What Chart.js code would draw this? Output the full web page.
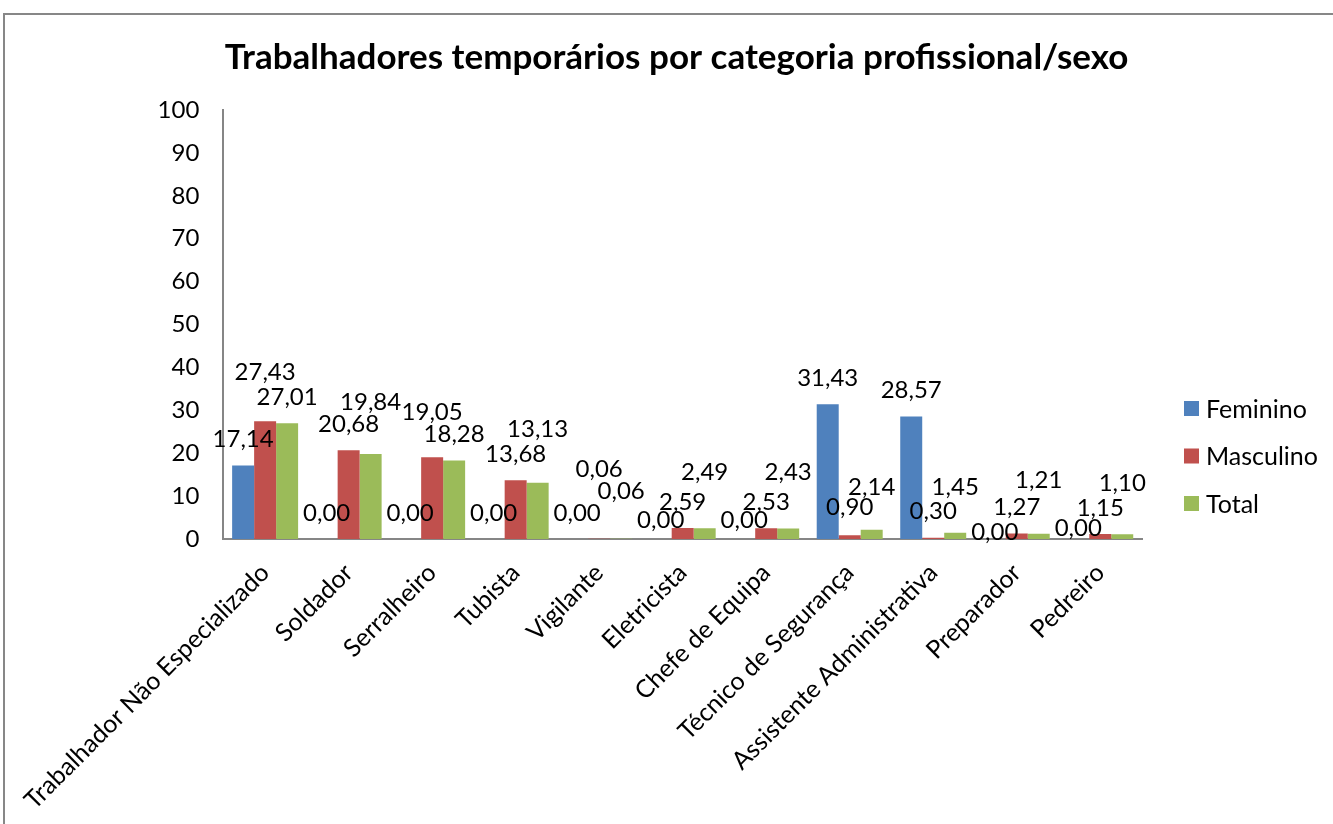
<!DOCTYPE html>
<html>
<head>
<meta charset="utf-8">
<script src="https://cdn.jsdelivr.net/npm/chart.js"></script>
<style>
    html, body { margin: 0; padding: 0; overflow: hidden; background: #fff; }
    #moldura { position: absolute; left: 3px; top: 13px; width: 1400px; height: 900px; border: 2px solid #878787; }
    #caixa { position: absolute; left: 0; top: 0; width: 1333px; height: 824px; }
</style>
</head>
<body>
<div id="moldura"></div>
<div id="caixa"><canvas id="grafico"></canvas></div>
<script>
const categorias = [
    "Trabalhador Não Especializado", "Soldador", "Serralheiro", "Tubista", "Vigilante",
    "Eletricista", "Chefe de Equipa", "Técnico de Segurança", "Assistente Administrativa",
    "Preparador", "Pedreiro"
];
const feminino = [17.14, 0.00, 0.00, 0.00, 0.00, 0.00, 0.00, 31.43, 28.57, 0.00, 0.00];
const masculino = [27.43, 20.68, 19.05, 13.68, 0.06, 2.59, 2.53, 0.90, 0.30, 1.27, 1.15];
const total = [27.01, 19.84, 18.28, 13.13, 0.06, 2.49, 2.43, 2.14, 1.45, 1.21, 1.10];
const escalaY = { min: 0, max: 100, passo: 10 };

// os rótulos no original foram afastados à mão; isto é o deslocamento extra (px)
const elevarFeminino = [0, 0, 0, 0, 0, -7, -7, 0, 0, -19, -15];
const elevarMasculino = [23, 0, 19, 0, 43, 0, 0, 2, 0, 0, 0];
const elevarTotal = [0, 26, 0, 27, 21, 30, 30, 17, 20, 28, 25];

const fonte = "Lato";
const tamanhoTexto = 24;

const rotulosValores = {
    id: "rotulosValores",
    afterDatasetsDraw(chart) {
        const ctx = chart.ctx;
        ctx.save();
        ctx.font = tamanhoTexto + "px " + fonte;
        ctx.fillStyle = "#000";
        ctx.textAlign = "center";
        ctx.textBaseline = "middle";
        chart.data.datasets.forEach(function (ds, i) {
            const meta = chart.getDatasetMeta(i);
            meta.data.forEach(function (barra, j) {
                const texto = ds.data[j].toFixed(2).replace(".", ",");
                ctx.fillText(texto, barra.x, barra.y - 26 - ds.elevar[j]);
            });
        });
        ctx.restore();
    }
};

// legenda desenhada à parte, à direita da área do gráfico
const legendaDireita = {
    id: "legendaDireita",
    afterDraw(chart) {
        const ctx = chart.ctx;
        const area = chart.chartArea;
        const x = area.right + 42;
        const meio = 456;
        const passo = 47.5;
        const n = chart.data.datasets.length;
        ctx.save();
        ctx.font = "25px " + fonte;
        ctx.textAlign = "left";
        ctx.textBaseline = "middle";
        chart.data.datasets.forEach(function (ds, i) {
            const y = meio + (i - (n - 1) / 2) * passo;
            ctx.fillStyle = ds.backgroundColor;
            ctx.fillRect(x, y - 7.5, 15, 15);
            ctx.fillStyle = "#000";
            ctx.fillText(ds.label, x + 22, y + 1);
        });
        ctx.restore();
    }
};

new Chart(document.getElementById("grafico"), {
    type: "bar",
    data: {
        labels: categorias,
        datasets: [
            { label: "Feminino", data: feminino, backgroundColor: "#4F81BD", elevar: elevarFeminino },
            { label: "Masculino", data: masculino, backgroundColor: "#C0504D", elevar: elevarMasculino },
            { label: "Total", data: total, backgroundColor: "#9BBB59", elevar: elevarTotal }
        ]
    },
    options: {
        responsive: true,
        maintainAspectRatio: false,
        animation: false,
        layout: { padding: { left: 20, right: 0, top: 0, bottom: 0 } },
        datasets: {
            bar: { categoryPercentage: 0.79, barPercentage: 1 }
        },
        plugins: {
            title: {
                display: true,
                text: "Trabalhadores temporários por categoria profissional/sexo",
                color: "#000",
                font: { family: fonte, size: 35, weight: "bold", lineHeight: 1.2 },
                padding: { top: 37, bottom: 31 }
            },
            legend: { display: false },
            tooltip: { enabled: false }
        },
        scales: {
            x: {
                grid: { display: false, drawTicks: false },
                border: { display: true, color: "#868686", width: 2 },
                ticks: {
                    color: "#000",
                    font: { family: fonte, size: 25 },
                    minRotation: 45,
                    maxRotation: 45,
                    autoSkip: false,
                    padding: 19
                },
                afterFit(scale) { scale.height = 285; }
            },
            y: {
                min: escalaY.min,
                max: escalaY.max,
                grid: { display: false, drawTicks: false },
                border: { display: true, color: "#868686", width: 2 },
                ticks: {
                    stepSize: escalaY.passo,
                    color: "#000",
                    font: { family: fonte, size: tamanhoTexto },
                    padding: 24
                },
                afterFit(scale) { scale.width = 201; }
            },
            // eixo vazio à direita só para reservar o espaço da legenda
            reserva: {
                type: "linear",
                position: "right",
                display: true,
                grid: { display: false, drawTicks: false },
                border: { display: false },
                ticks: { display: false },
                afterFit(scale) { scale.width = 191; }
            }
        }
    },
    plugins: [rotulosValores, legendaDireita]
});
</script>
</body>
</html>
